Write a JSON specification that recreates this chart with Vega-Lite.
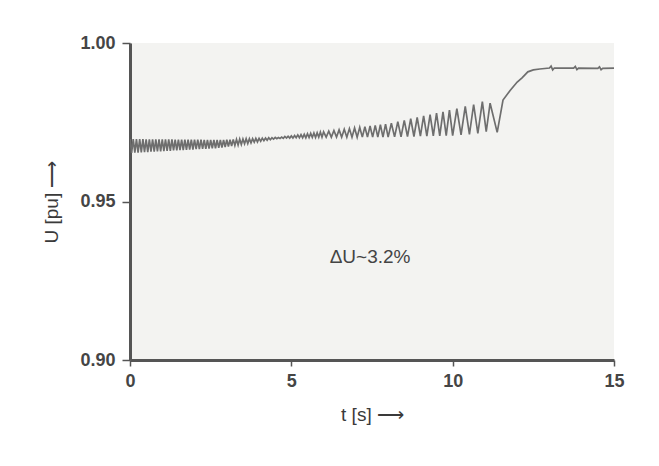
{
  "$schema": "https://vega.github.io/schema/vega-lite/v6.json",
  "width": 484,
  "height": 317,
  "autosize": {"type": "none"},
  "padding": {"left": 130, "top": 43, "right": 45, "bottom": 106},
  "background": "white",
  "config": {
    "view": {"fill": "#f3f3f1", "stroke": null},
    "font": "Liberation Sans"
  },
  "layer": [
    {
      "data": {
        "values": [
          {"t": 0.0, "u": 0.9697}, {"t": 0.05, "u": 0.9653}, {"t": 0.1, "u": 0.9697}, {"t": 0.15, "u": 0.9654},
          {"t": 0.2, "u": 0.9697}, {"t": 0.25, "u": 0.9654}, {"t": 0.3, "u": 0.9697}, {"t": 0.35, "u": 0.9655},
          {"t": 0.4, "u": 0.9697}, {"t": 0.45, "u": 0.9656}, {"t": 0.5, "u": 0.9696}, {"t": 0.55, "u": 0.9656},
          {"t": 0.6, "u": 0.9696}, {"t": 0.65, "u": 0.9657}, {"t": 0.7, "u": 0.9696}, {"t": 0.75, "u": 0.9657},
          {"t": 0.8, "u": 0.9696}, {"t": 0.85, "u": 0.9658}, {"t": 0.9, "u": 0.9696}, {"t": 0.95, "u": 0.9658},
          {"t": 1.0, "u": 0.9696}, {"t": 1.05, "u": 0.9659}, {"t": 1.1, "u": 0.9696}, {"t": 1.15, "u": 0.966},
          {"t": 1.2, "u": 0.9696}, {"t": 1.25, "u": 0.966}, {"t": 1.3, "u": 0.9696}, {"t": 1.35, "u": 0.9661},
          {"t": 1.4, "u": 0.9695}, {"t": 1.45, "u": 0.9661}, {"t": 1.5, "u": 0.9695}, {"t": 1.55, "u": 0.9662},
          {"t": 1.6, "u": 0.9695}, {"t": 1.65, "u": 0.9662}, {"t": 1.7, "u": 0.9695}, {"t": 1.75, "u": 0.9663},
          {"t": 1.8, "u": 0.9695}, {"t": 1.85, "u": 0.9664}, {"t": 1.9, "u": 0.9695}, {"t": 1.95, "u": 0.9664},
          {"t": 2.0, "u": 0.9695}, {"t": 2.05, "u": 0.9665}, {"t": 2.1, "u": 0.9695}, {"t": 2.15, "u": 0.9665},
          {"t": 2.2, "u": 0.9695}, {"t": 2.25, "u": 0.9666}, {"t": 2.3, "u": 0.9694}, {"t": 2.35, "u": 0.9666},
          {"t": 2.4, "u": 0.9694}, {"t": 2.45, "u": 0.9667}, {"t": 2.5, "u": 0.9694}, {"t": 2.55, "u": 0.9668},
          {"t": 2.6, "u": 0.9694}, {"t": 2.65, "u": 0.9668}, {"t": 2.7, "u": 0.9694}, {"t": 2.75, "u": 0.9669},
          {"t": 2.8, "u": 0.9694}, {"t": 2.85, "u": 0.967}, {"t": 2.9, "u": 0.9694}, {"t": 2.95, "u": 0.9672},
          {"t": 3.0, "u": 0.9695}, {"t": 3.05, "u": 0.9673}, {"t": 3.1, "u": 0.9695}, {"t": 3.15, "u": 0.9675},
          {"t": 3.2, "u": 0.9696}, {"t": 3.25, "u": 0.9677}, {"t": 3.3, "u": 0.9696}, {"t": 3.35, "u": 0.9678},
          {"t": 3.4, "u": 0.9697}, {"t": 3.45, "u": 0.968}, {"t": 3.5, "u": 0.9697}, {"t": 3.55, "u": 0.9682},
          {"t": 3.6, "u": 0.9698}, {"t": 3.65, "u": 0.9683}, {"t": 3.7, "u": 0.9698}, {"t": 3.75, "u": 0.9685},
          {"t": 3.8, "u": 0.9698}, {"t": 3.85, "u": 0.9687}, {"t": 3.9, "u": 0.9699}, {"t": 3.95, "u": 0.9688},
          {"t": 4.0, "u": 0.9699}, {"t": 4.05, "u": 0.969}, {"t": 4.1, "u": 0.97}, {"t": 4.15, "u": 0.9692},
          {"t": 4.2, "u": 0.97}, {"t": 4.25, "u": 0.9693}, {"t": 4.3, "u": 0.9701}, {"t": 4.35, "u": 0.9695},
          {"t": 4.4, "u": 0.9701}, {"t": 4.45, "u": 0.9697}, {"t": 4.5, "u": 0.9702}, {"t": 4.55, "u": 0.9698},
          {"t": 4.6, "u": 0.9702}, {"t": 4.65, "u": 0.9699}, {"t": 4.7, "u": 0.9703}, {"t": 4.75, "u": 0.9699},
          {"t": 4.8, "u": 0.9705}, {"t": 4.85, "u": 0.97}, {"t": 4.9, "u": 0.9706}, {"t": 4.95, "u": 0.97},
          {"t": 5.0, "u": 0.9707}, {"t": 5.05, "u": 0.97}, {"t": 5.1, "u": 0.9708}, {"t": 5.15, "u": 0.9701},
          {"t": 5.2, "u": 0.971}, {"t": 5.25, "u": 0.9701}, {"t": 5.3, "u": 0.9711}, {"t": 5.35, "u": 0.9701},
          {"t": 5.4, "u": 0.9712}, {"t": 5.45, "u": 0.9701}, {"t": 5.5, "u": 0.9714}, {"t": 5.55, "u": 0.9702},
          {"t": 5.6, "u": 0.9715}, {"t": 5.65, "u": 0.9702}, {"t": 5.7, "u": 0.9716}, {"t": 5.75, "u": 0.9702},
          {"t": 5.8, "u": 0.9717}, {"t": 5.85, "u": 0.9703}, {"t": 5.9, "u": 0.9719}, {"t": 5.95, "u": 0.9703},
          {"t": 6.0, "u": 0.972}, {"t": 6.08, "u": 0.9703}, {"t": 6.16, "u": 0.9722}, {"t": 6.24, "u": 0.9703},
          {"t": 6.32, "u": 0.9724}, {"t": 6.4, "u": 0.9703}, {"t": 6.48, "u": 0.9726}, {"t": 6.56, "u": 0.9703},
          {"t": 6.64, "u": 0.9728}, {"t": 6.72, "u": 0.9703}, {"t": 6.8, "u": 0.973}, {"t": 6.88, "u": 0.9703},
          {"t": 6.96, "u": 0.9732}, {"t": 7.04, "u": 0.9703}, {"t": 7.12, "u": 0.9734}, {"t": 7.2, "u": 0.9703},
          {"t": 7.28, "u": 0.9736}, {"t": 7.36, "u": 0.9703}, {"t": 7.44, "u": 0.9738}, {"t": 7.52, "u": 0.9703},
          {"t": 7.6, "u": 0.974}, {"t": 7.68, "u": 0.9703}, {"t": 7.76, "u": 0.9742}, {"t": 7.84, "u": 0.9703},
          {"t": 7.92, "u": 0.9744}, {"t": 8.0, "u": 0.9703}, {"t": 8.1, "u": 0.9747}, {"t": 8.2, "u": 0.9704},
          {"t": 8.3, "u": 0.9752}, {"t": 8.4, "u": 0.9704}, {"t": 8.5, "u": 0.9756}, {"t": 8.6, "u": 0.9705},
          {"t": 8.7, "u": 0.9761}, {"t": 8.8, "u": 0.9705}, {"t": 8.9, "u": 0.9765}, {"t": 9.0, "u": 0.9706},
          {"t": 9.1, "u": 0.977}, {"t": 9.2, "u": 0.9706}, {"t": 9.3, "u": 0.9774}, {"t": 9.4, "u": 0.9707},
          {"t": 9.5, "u": 0.9779}, {"t": 9.6, "u": 0.9707}, {"t": 9.7, "u": 0.9783}, {"t": 9.8, "u": 0.9708},
          {"t": 9.9, "u": 0.9788}, {"t": 10.0, "u": 0.9708}, {"t": 10.13, "u": 0.9793}, {"t": 10.26, "u": 0.971},
          {"t": 10.39, "u": 0.98}, {"t": 10.52, "u": 0.9712}, {"t": 10.65, "u": 0.9806}, {"t": 10.78, "u": 0.9715},
          {"t": 10.92, "u": 0.9815}, {"t": 11.04, "u": 0.972}, {"t": 11.16, "u": 0.981}, {"t": 11.38, "u": 0.9718},
          {"t": 11.56, "u": 0.982}, {"t": 11.78, "u": 0.985}, {"t": 12.0, "u": 0.9877}, {"t": 12.15, "u": 0.989},
          {"t": 12.33, "u": 0.9909}, {"t": 12.5, "u": 0.9915}, {"t": 12.7, "u": 0.9918}, {"t": 13.0, "u": 0.9921},
          {"t": 13.05, "u": 0.9927}, {"t": 13.1, "u": 0.9915}, {"t": 13.15, "u": 0.9921}, {"t": 13.5, "u": 0.9921},
          {"t": 13.75, "u": 0.9921}, {"t": 13.8, "u": 0.9926}, {"t": 13.85, "u": 0.9916}, {"t": 13.9, "u": 0.9921},
          {"t": 14.5, "u": 0.992}, {"t": 14.55, "u": 0.9925}, {"t": 14.6, "u": 0.9916}, {"t": 14.65, "u": 0.992},
          {"t": 15.0, "u": 0.9921}
        ]
      },
      "mark": {"type": "line", "color": "#6e6e6e", "strokeWidth": 1.7, "clip": true},
      "encoding": {
        "x": {
          "field": "t", "type": "quantitative",
          "scale": {"domain": [0, 15], "nice": false},
          "axis": {
            "values": [0, 5, 10, 15], "title": "t [s] ⟶", "grid": false,
            "domainColor": "#555555", "domainWidth": 3, "tickColor": "#555555", "tickWidth": 1.5, "tickSize": 6,
            "labelFontSize": 18, "labelFontWeight": "bold", "labelColor": "#454545", "labelPadding": 6, "labelFlush": false,
            "titleFontSize": 19, "titleColor": "#3a3a3a", "titleFontWeight": "normal", "titlePadding": 15
          }
        },
        "y": {
          "field": "u", "type": "quantitative",
          "scale": {"domain": [0.9, 1.0], "nice": false, "zero": false},
          "axis": {
            "values": [0.9, 0.95, 1.0], "format": ".2f", "title": "U [pu] ⟶", "grid": false,
            "domainColor": "#555555", "domainWidth": 3, "tickColor": "#555555", "tickWidth": 1.5, "tickSize": 8,
            "labelFontSize": 18, "labelFontWeight": "bold", "labelColor": "#454545", "labelPadding": 7, "labelFlush": false,
            "titleFontSize": 19, "titleColor": "#3a3a3a", "titleFontWeight": "normal", "titlePadding": 18
          }
        }
      }
    },
    {
      "data": {"values": [{"t": 7.44, "u": 0.9325, "label": "ΔU~3.2%"}]},
      "mark": {"type": "text", "fontSize": 19, "color": "#444444", "align": "center", "baseline": "middle"},
      "encoding": {
        "x": {"field": "t", "type": "quantitative"},
        "y": {"field": "u", "type": "quantitative"},
        "text": {"field": "label"}
      }
    }
  ]
}
